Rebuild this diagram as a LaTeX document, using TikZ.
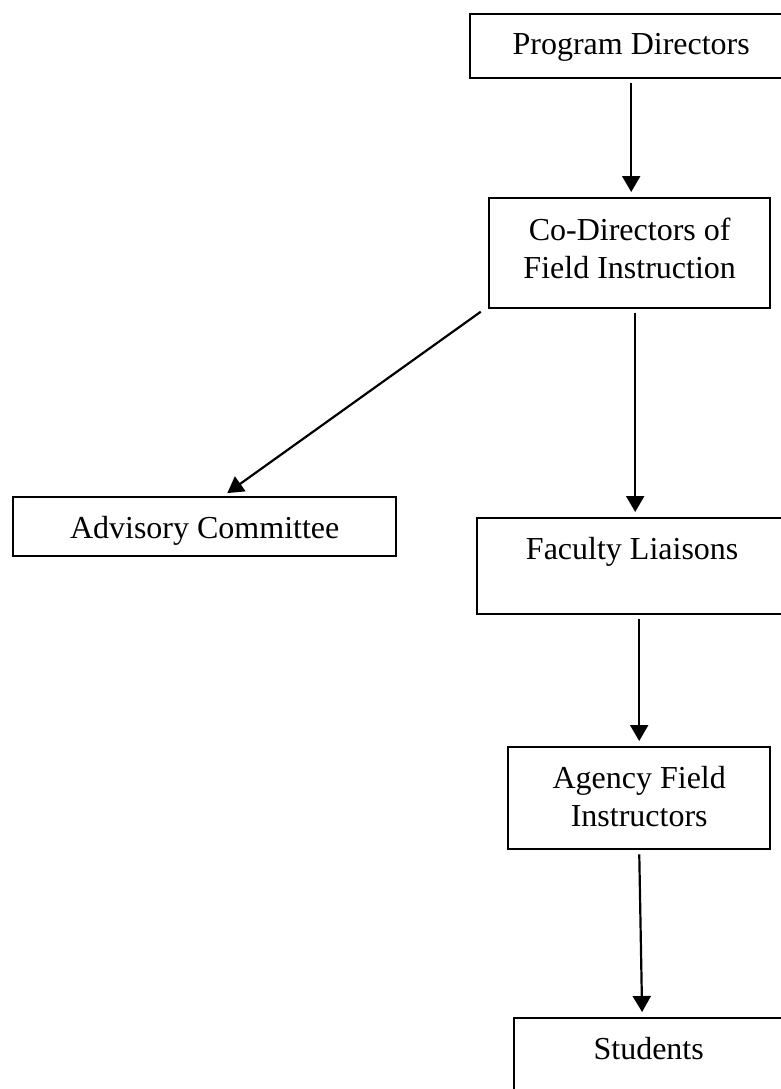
\documentclass[tikz,border=0pt]{standalone}
\usepackage{fontspec}
\setmainfont{Liberation Serif}
\usetikzlibrary{arrows.meta}

\begin{document}
\begin{tikzpicture}[x=.5pt,y=-.5pt,
  box/.style={draw,line width=1.2pt,inner sep=0pt,anchor=north west,align=center,font=\fontsize{16}{18.7}\selectfont},
  arr/.style={draw,line width=1.1pt,-{Triangle[length=8pt,width=9pt]},shorten <=2pt,shorten >=2.5pt}]
\path[use as bounding box] (0,0) rectangle (781,1089);
\path[fill=white,draw=none] (0,0) rectangle (781,1089);
\node[box,minimum width=161pt,text height=20pt,text depth=12pt] (prog) at (469,13) {Program Directors};
\node[box,minimum width=140.5pt,text height=40pt,text depth=15pt] (codir) at (488,197) {Co-Directors of\\Field Instruction};
\node[box,minimum width=191.5pt,text height=20.5pt,text depth=9pt] (advis) at (12,496) {Advisory Committee};
\node[box,minimum width=155pt,text height=20.5pt,text depth=27.5pt] (facul) at (476,517) {Faculty Liaisons};
\node[box,minimum width=131pt,text height=39.5pt,text depth=11.5pt] (agency) at (507,746) {Agency Field\\Instructors};
\node[box,minimum width=134.5pt,text height=20.5pt,text depth=27.5pt] (stud) at (513,1017) {Students};
\draw[arr] (prog.south) -- (prog.south |- codir.north);
\draw[arr] ([xshift=-2pt]codir.south west) -- ([xshift=9.25pt]advis.north);
\draw[arr] ([xshift=2.75pt]codir.south) -- ([xshift=2.75pt]codir.south |- facul.north);
\draw[arr] (facul.south -| agency.north) -- (agency.north);
\draw[arr] (agency.south) -- ([xshift=1.5pt]agency.south |- stud.north);
\end{tikzpicture}
\end{document}
